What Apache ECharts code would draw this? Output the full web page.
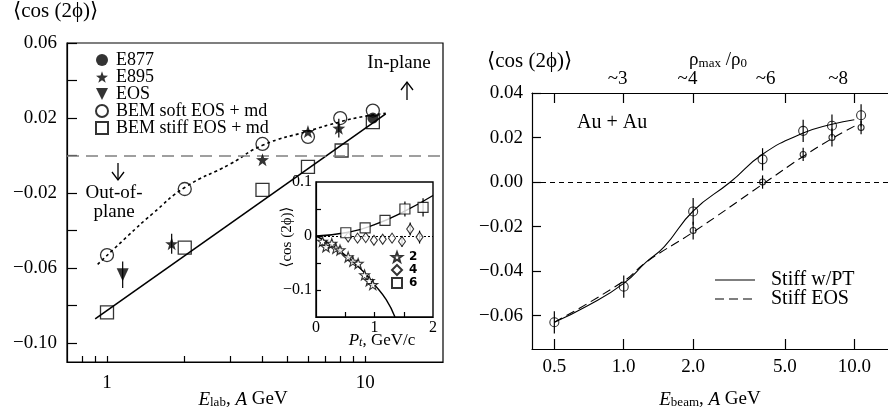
<!DOCTYPE html>
<html><head><meta charset="utf-8">
<script src="https://cdn.jsdelivr.net/npm/echarts@6/dist/echarts.min.js"></script>
<style>html,body{margin:0;padding:0;background:#fff}#c{width:888px;height:415px}</style>
</head><body><div id="c"></div>
<script>
// ===== Left panel: <cos 2phi> vs E_lab (A GeV) =====
const e877 = [[10.7, 0.020]];
const e895 = [[1.78, -0.047], [4.0, -0.0022], [6.0, 0.0128], [7.9, 0.0146]];
const e895Err = [0.0053, 0, 0, 0.005];
const eosExp = [[1.15, -0.0635]];
const eosExpErr = [0.007];
const bemSoft = [[1.0, -0.053], [2.0, -0.0178], [4.0, 0.0062], [6.0, 0.010], [8.0, 0.020], [10.7, 0.024]];
const bemStiff = [[1.0, -0.0836], [2.0, -0.049], [4.0, -0.0183], [6.0, -0.006], [8.1, 0.0027], [10.7, 0.0178]];
const softFitE = [0.92, 1.2, 1.5, 2, 3, 4, 6, 8, 10, 12];
const softFitV = [-0.058, -0.043, -0.031, -0.017, -0.0045, 0.0055, 0.013, 0.018, 0.021, 0.0225];
const stiffFitE = [0.9, 12];
const stiffFitV = [-0.087, 0.0222];
const leftXTicks = [0.8, 0.9, 1, 2, 3, 4, 5, 6, 7, 8, 9, 10];
const leftXLabels = [1, 10];
const leftYTicks = [-0.10, -0.08, -0.06, -0.04, -0.02, 0, 0.02, 0.04, 0.06];
const leftYLabels = [-0.10, -0.06, -0.02, 0.02, 0.06];

// ===== Inset: <cos 2phi> vs Pt (GeV/c) =====
const inset2 = [[0.11, -0.010], [0.17, -0.020], [0.27, -0.014], [0.34, -0.023], [0.41, -0.026], [0.55, -0.039], [0.63, -0.047], [0.72, -0.051], [0.83, -0.072], [0.91, -0.083], [0.97, -0.090]];
const inset4 = [[0.55, -0.002], [0.71, -0.004], [0.85, -0.003], [0.99, -0.008], [1.14, -0.006], [1.30, -0.004], [1.47, -0.010], [1.61, 0.013], [1.77, -0.002]];
const inset4Err = [0, 0, 0, 0, 0, 0, 0.01, 0.012, 0.012];
const inset6 = [[0.51, 0.006], [0.84, 0.015], [1.18, 0.029], [1.52, 0.050], [1.83, 0.053]];
const inset6Err = [0, 0, 0, 0.014, 0.017];
const fit2P = [0, 0.2, 0.4, 0.6, 0.8, 1.0, 1.2, 1.35];
const fit2V = [0, -0.012, -0.027, -0.045, -0.065, -0.09, -0.118, -0.15];
const fit6P = [0, 0.5, 1.0, 1.5, 2.0];
const fit6V = [0, 0.006, 0.021, 0.045, 0.075];
const insetXTicks = [0.5, 1, 1.5];
const insetXLabels = [0, 1, 2];
const insetYTicks = [-0.1, -0.05, 0, 0.05];
const insetYLabels = [-0.1, 0, 0.1];

// ===== Right panel: <cos 2phi> vs E_beam (A GeV), Au + Au =====
const ptPtsE = [0.5, 1.0, 2.0, 4.0, 6.0, 8.0, 10.7];
const ptPtsV = [-0.063, -0.047, -0.0132, 0.0102, 0.023, 0.0253, 0.030];
const ptPtsErr = [0.005, 0.005, 0.006, 0.005, 0.005, 0.005, 0.005];
const eosPtsE = [2.0, 4.0, 6.0, 8.0, 10.7];
const eosPtsV = [-0.0218, 0.000, 0.0124, 0.020, 0.0245];
const eosPtsErr = [0.004, 0.003, 0.003, 0.004, 0.003];
const ptCurveE = [0.5, 0.7, 1.0, 1.25, 1.5, 2.0, 2.9, 4.0, 6.0, 8.0, 10.0];
const ptCurveV = [-0.063, -0.0555, -0.0455, -0.036, -0.029, -0.013, 0.0, 0.0125, 0.022, 0.026, 0.028];
const eosCurveE = [0.5, 1.0, 1.25, 2.0, 4.0, 6.0, 8.0, 10.4];
const eosCurveV = [-0.063, -0.0445, -0.036, -0.0225, -0.001, 0.0115, 0.0195, 0.026];
const rightXTicks = [0.5, 1, 2, 5, 10];
const rightYTicks = [-0.06, -0.04, -0.02, 0, 0.02, 0.04];
const topLabelPos = [0.94, 1.89, 4.12, 8.5];
const topLabels = ['~3', '~4', '~6', '~8'];
const rightLegendNames = ['Stiff w/PT', 'Stiff EOS'];

const SERIF = "'Liberation Serif','DejaVu Serif',serif";
const BLACK = '#000';
const zip = (a, b) => a.map((v, i) => [v, b[i]]);
const withErr = (pts, err) => pts.map((p, i) => [p[0], p[1], err[i]]);
const minus = s => s.replace('-', '\u2212');
const STAR = 'path://M0,-10L2.35,-3.24L9.51,-3.09L3.8,1.24L5.88,8.09L0,4L-5.88,8.09L-3.8,1.24L-9.51,-3.09L-2.35,-3.24Z';
const TRI_DOWN = 'path://M0,0L10,0L5,10Z';
const open = { color: 'rgba(0,0,0,0)', borderColor: BLACK, borderWidth: 1.3 };

function errRender(params, api) {
  const x = api.value(0), y = api.value(1), e = api.value(2);
  if (!e) return null;
  const a = api.coord([x, y + e]), b = api.coord([x, y - e]);
  return { type: 'line', shape: { x1: a[0], y1: a[1], x2: b[0], y2: b[1] }, style: { stroke: BLACK, lineWidth: 1.2 } };
}
function nearestIdx(arr, v) {
  let best = 0;
  arr.forEach((a, i) => { if (Math.abs(Math.log(a) - Math.log(v)) < Math.abs(Math.log(arr[best]) - Math.log(v))) best = i; });
  return best;
}
const lbl = (extra) => Object.assign({ fontFamily: SERIF, fontSize: 19, color: BLACK }, extra);
const axLine = { show: true, onZero: false, lineStyle: { color: BLACK, width: 1.2 } };
const tick = (len, vals) => ({ show: true, inside: true, length: len, customValues: vals, lineStyle: { color: BLACK, width: 1.2 } });

const chart = echarts.init(document.getElementById('c'), null, { renderer: 'canvas' });
const richSub = {
  n: { fontFamily: SERIF, fontSize: 19, lineHeight: 22, verticalAlign: 'bottom', fill: BLACK },
  it: { fontFamily: SERIF, fontSize: 19, fontStyle: 'italic', lineHeight: 22, verticalAlign: 'bottom', fill: BLACK },
  sub: { fontFamily: SERIF, fontSize: 13, lineHeight: 10, verticalAlign: 'bottom', fill: BLACK },
  itsub: { fontFamily: SERIF, fontSize: 12, fontStyle: 'italic', lineHeight: 10, verticalAlign: 'bottom', fill: BLACK },
  itsm: { fontFamily: SERIF, fontSize: 17, fontStyle: 'italic', lineHeight: 20, verticalAlign: 'bottom', fill: BLACK },
  nsm: { fontFamily: SERIF, fontSize: 17, lineHeight: 20, verticalAlign: 'bottom', fill: BLACK }
};
function txt(x, y, text, opts) {
  return Object.assign({ type: 'text', x: x, y: y, z: 50,
    style: Object.assign({ text: text, fontFamily: SERIF, fontSize: 19, fill: BLACK, align: 'center', verticalAlign: 'middle' }, opts || {}) });
}
function arrow(x, y1, y2) {
  const dir = y2 < y1 ? 1 : -1;
  return { type: 'group', z: 50, children: [
    { type: 'line', shape: { x1: x, y1: y1, x2: x, y2: y2 }, style: { stroke: BLACK, lineWidth: 1.3 } },
    { type: 'polyline', shape: { points: [[x - 6, y2 + dir * 8], [x, y2], [x + 6, y2 + dir * 8]] }, style: { stroke: BLACK, lineWidth: 1.3, fill: null } }
  ] };
}
function hline(x1, x2, y, dash) {
  return { type: 'line', z: 50, shape: { x1: x1, y1: y, x2: x2, y2: y }, style: { stroke: BLACK, lineWidth: 1.1, lineDash: dash || null } };
}

const option = {
  backgroundColor: '#fff',
  animation: false,
  grid: [
    { left: 67, top: 43, width: 376, height: 319, show: true, borderColor: BLACK, borderWidth: 1.2, backgroundColor: 'transparent', outerBoundsMode: 'none', containLabel: false },
    { left: 316, top: 182, width: 117, height: 135, show: true, borderColor: BLACK, borderWidth: 1.4, backgroundColor: '#fff', outerBoundsMode: 'none', containLabel: false },
    { left: 532, top: 93, width: 356, height: 256, show: false, outerBoundsMode: 'none', containLabel: false }
  ],
  xAxis: [
    { type: 'log', gridIndex: 0, logBase: 10, min: 0.7, max: 20, axisLine: axLine, axisTick: tick(6, leftXTicks),
      axisLabel: lbl({ customValues: leftXLabels, margin: 12, formatter: v => String(Math.round(v)) }), splitLine: { show: false }, minorTick: { show: false } },
    { type: 'value', gridIndex: 1, min: 0, max: 2, axisLine: axLine, axisTick: tick(5, insetXTicks),
      axisLabel: lbl({ customValues: insetXLabels, margin: 3, fontSize: 16, formatter: v => String(Math.round(v)) }), splitLine: { show: false } },
    { type: 'log', gridIndex: 2, logBase: 10, min: 0.4, max: 14, axisLine: axLine, axisTick: tick(10, rightXTicks),
      axisLabel: lbl({ customValues: rightXTicks, margin: 9, formatter: v => Number(v).toFixed(1) }), splitLine: { show: false }, minorTick: { show: false } },
    { type: 'log', gridIndex: 2, position: 'top', logBase: 10, min: 0.4, max: 14, axisLine: axLine, axisTick: tick(10, rightXTicks),
      axisLabel: lbl({ customValues: topLabelPos, margin: 4, formatter: v => topLabels[nearestIdx(topLabelPos, v)] }), splitLine: { show: false }, minorTick: { show: false } }
  ],
  yAxis: [
    { type: 'value', gridIndex: 0, min: -0.11, max: 0.06, axisLine: axLine, axisTick: tick(10, leftYTicks),
      axisLabel: lbl({ customValues: leftYLabels, margin: 10, formatter: v => minus(Number(v).toFixed(2)) }), splitLine: { show: false } },
    { type: 'value', gridIndex: 1, min: -0.15, max: 0.1, axisLine: axLine, axisTick: tick(5, insetYTicks),
      axisLabel: lbl({ customValues: insetYLabels, margin: 4, fontSize: 16, formatter: v => minus(Math.abs(v) < 1e-9 ? '0' : Number(v).toFixed(1)) }), splitLine: { show: false } },
    { type: 'value', gridIndex: 2, min: -0.075, max: 0.04, axisLine: axLine, axisTick: tick(9, rightYTicks),
      axisLabel: lbl({ customValues: rightYTicks, margin: 9, formatter: v => minus(Number(v).toFixed(2)) }), splitLine: { show: false } }
  ],
  legend: [
    { data: ['E877', 'E895', 'EOS', 'BEM soft EOS + md', 'BEM stiff EOS + md'], orient: 'vertical', left: 90, top: 46,
      itemWidth: 12, itemHeight: 12, itemGap: -1, selectedMode: false,
      textStyle: { fontFamily: SERIF, fontSize: 18, color: BLACK, padding: [0, 0, 0, 3] } },
    { data: ['2', '4', '6'], orient: 'vertical', left: 386, top: 246, itemWidth: 10, itemHeight: 10, itemGap: 1, selectedMode: false,
      textStyle: { fontFamily: "'DejaVu Sans',sans-serif", fontWeight: 'bold', fontSize: 12, color: BLACK, padding: [0, 0, 0, 2] } }
  ],
  series: [
    // ---- left main
    { name: 'softFit', type: 'line', xAxisIndex: 0, yAxisIndex: 0, data: zip(softFitE, softFitV), smooth: true, symbol: 'none',
      lineStyle: { color: BLACK, width: 1.6, type: [3, 3] },
      markLine: { silent: true, symbol: ['none', 'none'], label: { show: false }, lineStyle: { color: '#808080', width: 1.5, type: [12, 7] }, data: [{ yAxis: 0 }] } },
    { name: 'stiffFit', type: 'line', xAxisIndex: 0, yAxisIndex: 0, data: zip(stiffFitE, stiffFitV), symbol: 'none', lineStyle: { color: BLACK, width: 1.6 } },
    { name: 'leftErr', type: 'custom', xAxisIndex: 0, yAxisIndex: 0, renderItem: errRender, encode: { x: 0, y: 1 },
      data: withErr(e895, e895Err).concat(withErr(eosExp, eosExpErr)), z: 3 },
    { name: 'BEM stiff EOS + md', type: 'scatter', xAxisIndex: 0, yAxisIndex: 0, data: bemStiff, symbol: 'rect', symbolSize: 13, itemStyle: open, z: 4 },
    { name: 'BEM soft EOS + md', type: 'scatter', xAxisIndex: 0, yAxisIndex: 0, data: bemSoft, symbol: 'circle', symbolSize: 13, itemStyle: open, z: 4 },
    { name: 'E895', type: 'scatter', xAxisIndex: 0, yAxisIndex: 0, data: e895, symbol: STAR, symbolSize: 13, itemStyle: { color: BLACK }, z: 5 },
    { name: 'EOS', type: 'scatter', xAxisIndex: 0, yAxisIndex: 0, data: eosExp, symbol: TRI_DOWN, symbolSize: [12, 13], itemStyle: { color: BLACK }, z: 5 },
    { name: 'E877', type: 'scatter', xAxisIndex: 0, yAxisIndex: 0, data: e877, symbol: 'circle', symbolSize: 11, itemStyle: { color: BLACK }, z: 5 },
    // ---- inset
    { name: 'fit2', type: 'line', xAxisIndex: 1, yAxisIndex: 1, data: zip(fit2P, fit2V), smooth: true, symbol: 'none', lineStyle: { color: BLACK, width: 1.4 }, z: 6 },
    { name: 'fit6', type: 'line', xAxisIndex: 1, yAxisIndex: 1, data: zip(fit6P, fit6V), smooth: true, symbol: 'none', lineStyle: { color: BLACK, width: 1.4 }, z: 6 },
    { name: 'insetErr', type: 'custom', xAxisIndex: 1, yAxisIndex: 1, renderItem: errRender, encode: { x: 0, y: 1 },
      data: withErr(inset4, inset4Err).concat(withErr(inset6, inset6Err)), z: 6 },
    { name: '2', type: 'scatter', xAxisIndex: 1, yAxisIndex: 1, data: inset2, symbol: STAR, symbolSize: 10, itemStyle: { color: '#fff', borderColor: BLACK, borderWidth: 1.1 }, z: 7 },
    { name: '4', type: 'scatter', xAxisIndex: 1, yAxisIndex: 1, data: inset4, symbol: 'diamond', symbolSize: [7, 10], itemStyle: { color: '#fff', borderColor: BLACK, borderWidth: 1.1 }, z: 7,
      markLine: { silent: true, symbol: ['none', 'none'], label: { show: false }, lineStyle: { color: BLACK, width: 1, type: [2, 2] }, data: [{ yAxis: 0 }], z: 6 } },
    { name: '6', type: 'scatter', xAxisIndex: 1, yAxisIndex: 1, data: inset6, symbol: 'rect', symbolSize: 10, itemStyle: { color: '#fff', borderColor: BLACK, borderWidth: 1.2 }, z: 7 },
    // ---- right
    { name: rightLegendNames[0], type: 'line', xAxisIndex: 2, yAxisIndex: 2, data: zip(ptCurveE, ptCurveV), smooth: true, symbol: 'none', lineStyle: { color: BLACK, width: 1.1 },
      markLine: { silent: true, symbol: ['none', 'none'], label: { show: false }, lineStyle: { color: BLACK, width: 1, type: [5, 4] }, data: [{ yAxis: 0 }] } },
    { name: rightLegendNames[1], type: 'line', xAxisIndex: 2, yAxisIndex: 2, data: zip(eosCurveE, eosCurveV), smooth: true, symbol: 'none', lineStyle: { color: BLACK, width: 1.1, type: [9, 5] } },
    { name: 'rightErr', type: 'custom', xAxisIndex: 2, yAxisIndex: 2, renderItem: errRender, encode: { x: 0, y: 1 },
      data: withErr(zip(ptPtsE, ptPtsV), ptPtsErr).concat(withErr(zip(eosPtsE, eosPtsV), eosPtsErr)), z: 3 },
    { name: 'ptPts', type: 'scatter', xAxisIndex: 2, yAxisIndex: 2, data: zip(ptPtsE, ptPtsV), symbol: 'circle', symbolSize: 9, itemStyle: { color: 'rgba(0,0,0,0)', borderColor: BLACK, borderWidth: 1.1 }, z: 4 },
    { name: 'eosPts', type: 'scatter', xAxisIndex: 2, yAxisIndex: 2, data: zip(eosPtsE, eosPtsV), symbol: 'circle', symbolSize: 6, itemStyle: { color: 'rgba(0,0,0,0)', borderColor: BLACK, borderWidth: 1.1 }, z: 4 }
  ],
  graphic: [
    txt(13, 11, '\u27E8cos (2\u03D5)\u27E9', { align: 'left', fontSize: 21 }),
    txt(487, 61, '\u27E8cos (2\u03D5)\u27E9', { align: 'left', fontSize: 21 }),
    txt(718, 59, '{n|\u03C1}{sub|max}{n| /\u03C1}{sub|0}', { rich: richSub }),
    txt(243, 398, '{it|E}{sub|lab}{n|, }{it|A}{n| GeV}', { rich: richSub }),
    txt(710, 398, '{it|E}{sub|beam}{n|, }{it|A}{n| GeV}', { rich: richSub }),
    txt(399, 63, 'In-plane', { fontSize: 19 }),
    arrow(407, 100, 82),
    arrow(118, 163, 180),
    txt(114, 193, 'Out-of-', { fontSize: 19 }),
    txt(114, 212, 'plane', { fontSize: 19 }),
    txt(577, 123, 'Au + Au', { align: 'left', fontSize: 20 }),
    txt(382, 339, '{itsm|P}{itsub|t}{nsm|, GeV/c}', { rich: richSub }),
    Object.assign(txt(287, 237, '\u27E8cos (2\u03D5)\u27E9', { fontSize: 15 }), { rotation: Math.PI / 2 }),
    // right legend (line samples + names)
    hline(715, 755, 280),
    hline(715, 755, 299, [9, 5]),
    txt(771, 280, rightLegendNames[0], { align: 'left', fontSize: 20 }),
    txt(771, 299, rightLegendNames[1], { align: 'left', fontSize: 20 })
  ]
};
chart.setOption(option);
</script>
</body></html>
